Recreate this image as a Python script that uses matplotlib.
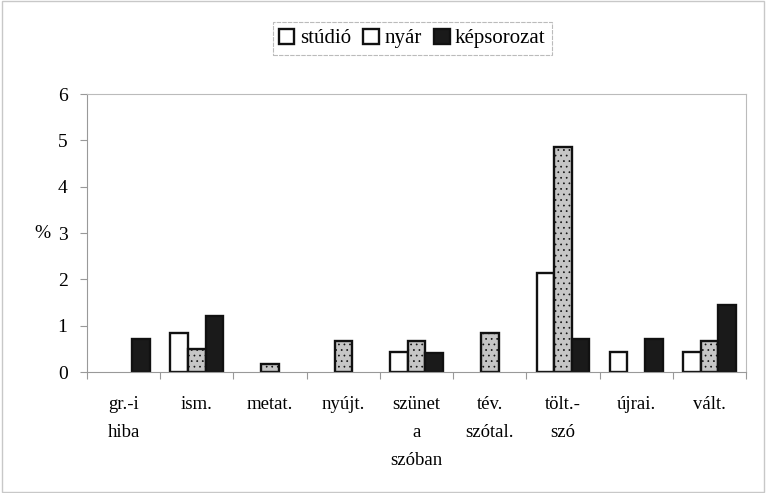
import matplotlib
matplotlib.use("Agg")
import matplotlib.pyplot as plt
import numpy as np
from matplotlib.patches import Patch, Rectangle

categories = ["gr.-i\nhiba", "ism.", "metat.", "nyújt.", "szünet\na\nszóban",
              "tév.\nszótal.", "tölt.-\nszó", "újrai.", "vált."]
studio = [0, 0.85, 0, 0, 0.43, 0, 2.13, 0.43, 0.43]
nyar = [0, 0.5, 0.17, 0.67, 0.67, 0.85, 4.85, 0, 0.67]
kepsorozat = [0.72, 1.22, 0, 0, 0.42, 0, 0.72, 0.72, 1.45]
series_names = ["stúdió", "nyár", "képsorozat"]
yticks = [0, 1, 2, 3, 4, 5, 6]

plt.rcParams['font.family'] = ['Liberation Serif', 'DejaVu Serif']
plt.rcParams['hatch.color'] = '#e6e6e6'
plt.rcParams['hatch.linewidth'] = 0.5

fig = plt.figure(figsize=(7.66, 4.93), dpi=100)
fig.patches.append(Rectangle((0.003, 0.003), 0.994, 0.994, transform=fig.transFigure,
                             fill=False, edgecolor='#c8c8c8', linewidth=1))
ax = fig.add_axes([0.1136, 0.2454, 0.8604, 0.5636])

x = np.arange(len(categories))
w = 0.24
styles = [dict(facecolor='white', edgecolor='#111111'),
          dict(facecolor='#c6c6c6', edgecolor='#111111', hatch='...'),
          dict(facecolor='#1a1a1a', edgecolor='#111111')]
for i, (vals, st) in enumerate(zip([studio, nyar, kepsorozat], styles)):
    bars = ax.bar(x + (i - 1) * w, vals, width=w, linewidth=1.7, **st)
    for b, v in zip(bars, vals):
        if v == 0:
            b.set_visible(False)

ax.set_xlim(-0.5, len(categories) - 0.5)
ax.set_ylim(0, 6)
ax.set_yticks(yticks)
ax.set_yticklabels([str(t) for t in yticks], fontsize=14)
ax.set_xticks(np.arange(len(categories) + 1) - 0.5, minor=False)
ax.set_xticklabels([])
ax.set_xticks(x, minor=True)
ax.set_xticklabels(categories, minor=True, fontsize=13.5, linespacing=1.85, va='top')
ax.tick_params(axis='x', which='minor', length=0, pad=17)
ax.tick_params(axis='x', which='major', length=5, direction='out', color='#999999')
ax.tick_params(axis='y', length=5, direction='out', color='#999999', pad=9)

for side in ['top', 'right']:
    ax.spines[side].set_color('#bbbbbb')
    ax.spines[side].set_linestyle((0, (4, 1)))
    ax.spines[side].set_linewidth(0.8)
for side in ['left', 'bottom']:
    ax.spines[side].set_color('#999999')
    ax.spines[side].set_linewidth(0.8)

ax.set_ylabel("%", rotation=0, fontsize=14, va='center')
ax.yaxis.set_label_coords(-0.068, 0.5)

handles = [Patch(facecolor='white', edgecolor='#111111', linewidth=1.7),
           Patch(facecolor='white', edgecolor='#111111', linewidth=1.7),
           Patch(facecolor='#1a1a1a', edgecolor='#111111', linewidth=1.7)]
leg = fig.legend(handles, series_names, loc='center', bbox_to_anchor=(0.538, 0.922),
                 ncol=3, fontsize=15, frameon=True, fancybox=False,
                 handlelength=0.75, handleheight=0.75, handletextpad=0.25,
                 columnspacing=0.6, borderpad=0.3)
leg.get_frame().set_edgecolor('#aaaaaa')
leg.get_frame().set_linestyle((0, (4, 1)))
leg.get_frame().set_linewidth(0.8)

fig.savefig("out.png", dpi=100)
